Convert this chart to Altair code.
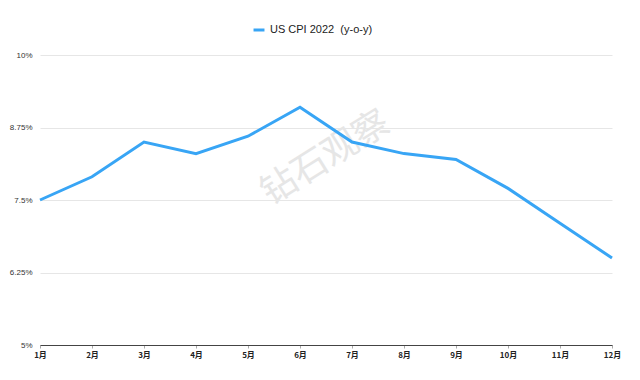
import altair as alt
import pandas as pd

months = ["1月", "2月", "3月", "4月", "5月", "6月", "7月", "8月", "9月", "10月", "11月", "12月"]
cpi = [7.5, 7.9, 8.5, 8.3, 8.6, 9.1, 8.5, 8.3, 8.2, 7.7, 7.1, 6.5]
series_name = "US CPI 2022\u00a0 (y-o-y)"
y_ticks = [5, 6.25, 7.5, 8.75, 10]
watermark = "钻石观察"

df = pd.DataFrame({"month": months, "cpi": cpi, "series": [series_name] * len(months)})
wm = pd.DataFrame({"month": ["6月"], "cpi": [7.95], "text": [watermark]})

font = "Liberation Sans"
cjk = "Noto Sans CJK SC"

x_enc = alt.X(
    "month:O",
    sort=months,
    scale=alt.Scale(type="point", padding=0),
    axis=alt.Axis(
        title=None, labelAngle=0, labelFontSize=8, labelColor="#222",
        labelAlign="center", domainColor="#444", domainWidth=1.2,
        tickColor="#aaa", tickSize=3, labelPadding=7, grid=False,
        labelFont=cjk, labelFontWeight="bold",
    ),
)
y_enc = alt.Y(
    "cpi:Q",
    scale=alt.Scale(domain=[5, 10], nice=False, zero=False),
    axis=alt.Axis(
        title=None, values=y_ticks, labelExpr="datum.value + '%'",
        labelFontSize=8, labelColor="#333", domain=False, ticks=False,
        gridColor="#e6e6e6", gridWidth=1, labelPadding=8, labelFont=font,
    ),
)

text = alt.Chart(wm).mark_text(
    fontSize=36, angle=328, color="#e6e6e6", font=cjk, dx=30
).encode(x=alt.X("month:O", sort=months), y="cpi:Q", text="text:N")

line = alt.Chart(df).mark_line(strokeWidth=3).encode(
    x=x_enc,
    y=y_enc,
    color=alt.Color(
        "series:N",
        scale=alt.Scale(range=["#38a5f5"]),
        legend=alt.Legend(
            title=None, orient="none", legendX=212, legendY=-32,
            symbolType="stroke", symbolStrokeWidth=3, symbolSize=120,
            labelFontSize=11, labelColor="#222", labelFont=font,
        ),
    ),
)

chart = alt.layer(text, line).properties(
    width=572, height=290,
    autosize=alt.AutoSizeParams(type="none"),
    padding={"left": 32, "top": 47, "right": 20, "bottom": 20},
).configure_view(stroke=None)

chart.save("out.html", embed_options={"renderer": "svg", "actions": False})
